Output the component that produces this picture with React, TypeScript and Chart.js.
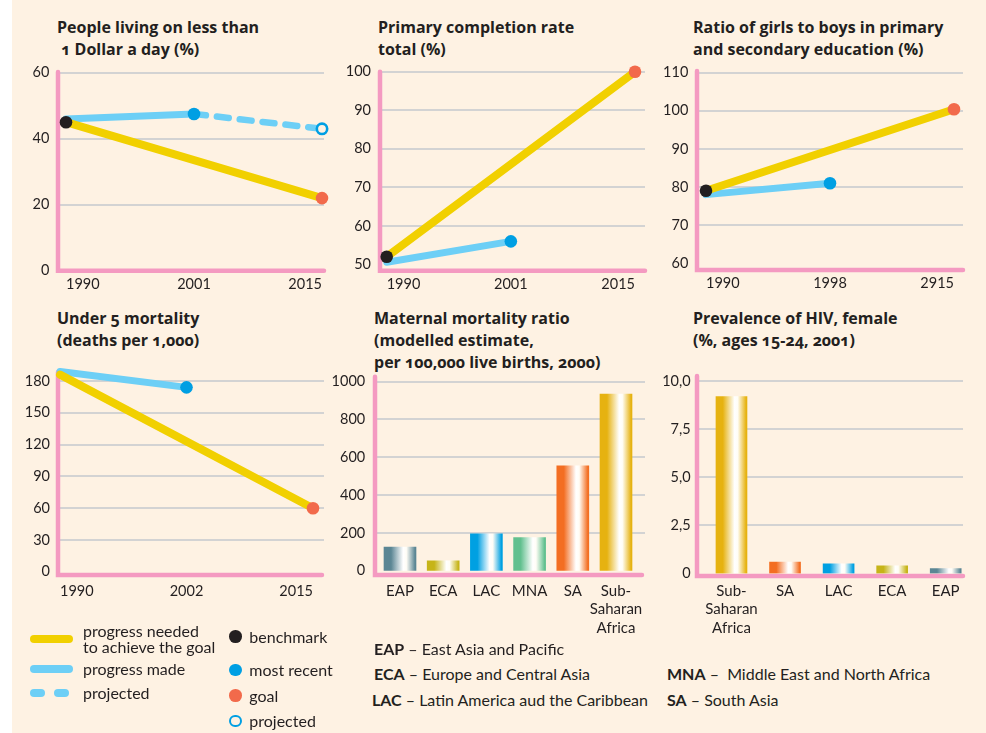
import React, { useEffect, useRef } from 'react';
import { Chart, registerables } from 'chart.js';

Chart.register(...registerables);

// ---------------- DATA ----------------
const POVERTY_YEARS = ['1990', '2001', '2015'];
const POVERTY_NEEDED = [45, null, 22];
const POVERTY_MADE = [46, 47.5, null];
const POVERTY_PROJECTED = [null, 47.5, 43];
const POVERTY_BENCHMARK = [45, null, null];
const POVERTY_RECENT = [null, 47.5, null];
const POVERTY_GOAL = [null, null, 22];
const POVERTY_PROJECTED_POINT = [null, null, 43];
const POVERTY_Y_TICKS = [0, 20, 40, 60];

const COMPLETION_YEARS = ['1990', '2001', '2015'];
const COMPLETION_NEEDED = [52, null, 100];
const COMPLETION_MADE = [50.6, 56, null];
const COMPLETION_BENCHMARK = [52, null, null];
const COMPLETION_RECENT = [null, 56, null];
const COMPLETION_GOAL = [null, null, 100];
const COMPLETION_Y_TICKS = [50, 60, 70, 80, 90, 100];

const GENDER_YEARS = ['1990', '1998', '2915'];
const GENDER_NEEDED = [79, null, 100.4];
const GENDER_MADE = [78, 81, null];
const GENDER_BENCHMARK = [79, null, null];
const GENDER_RECENT = [null, 81, null];
const GENDER_GOAL = [null, null, 100.4];
const GENDER_Y_TICKS = [60, 70, 80, 90, 100, 110];

const U5_YEARS = ['1990', '2002', '2015'];
const U5_NEEDED = [186, null, 60];
const U5_MADE = [189, 174, null];
const U5_BENCHMARK = [186, null, null];
const U5_RECENT = [null, 174, null];
const U5_GOAL = [null, null, 60];
const U5_Y_TICKS = [0, 30, 60, 90, 120, 150, 180];

const MMR_REGIONS = ['EAP', 'ECA', 'LAC', 'MNA', 'SA', 'SSA'];
const MMR_LABELS: (string | string[])[] = ['EAP', 'ECA', 'LAC', 'MNA', 'SA', ['Sub-', 'Saharan', 'Africa']];
const MMR_VALUES = [125, 52, 195, 175, 555, 935];
const MMR_Y_TICKS = [0, 200, 400, 600, 800, 1000];

const HIV_REGIONS = ['SSA', 'SA', 'LAC', 'ECA', 'EAP'];
const HIV_LABELS: (string | string[])[] = [['Sub-', 'Saharan', 'Africa'], 'SA', 'LAC', 'ECA', 'EAP'];
const HIV_VALUES = [9.2, 0.6, 0.5, 0.4, 0.25];
const HIV_Y_TICKS = [0, 2.5, 5, 7.5, 10];
const HIV_Y_TICK_LABELS = ['0', '2,5', '5,0', '7,5', '10,0'];

// ---------------- STYLE ----------------
const TEXT = '#231f20';
const YELLOW = '#f1d000';
const LIGHT_BLUE = '#6dcff6';
const DOT_BLUE = '#009fe3';
const GOAL_RED = '#f26a4b';
const BLACK = '#231f20';
const PINK = '#f49ac1';
const GRID = '#d3d3d3';
const BG = '#fef2e3';

const REGION_COLORS: Record<string, string> = {
  EAP: '#5b8694',
  ECA: '#c6b418',
  LAC: '#00a0e2',
  MNA: '#62c08f',
  SA: '#f36e22',
  SSA: '#e6b210',
};

type Geo = {
  left: number; top: number; width: number; height: number;
  L: number; R: number; T: number; B: number;
  axisX: number; axisTop: number; axisY: number; axisRight: number; gridRight: number;
  yPad: number; xPad: number; barW?: number;
};

const GEO_POVERTY: Geo = { left: 12, top: 56, width: 330, height: 250, L: 66, R: 322, T: 72.7, B: 270.7, axisX: 58, axisTop: 72, axisY: 270.7, axisRight: 324, gridRight: 324, yPad: 16.7, xPad: 4.6 };
const GEO_COMPLETION: Geo = { left: 335, top: 56, width: 320, height: 250, L: 386.7, R: 635, T: 71.7, B: 264.5, axisX: 380, axisTop: 71.7, axisY: 270.7, axisRight: 645, gridRight: 645, yPad: 15.7, xPad: 10.8 };
const GEO_GENDER: Geo = { left: 655, top: 56, width: 325, height: 250, L: 706, R: 954, T: 72.7, B: 263.2, axisX: 697, axisTop: 71, axisY: 270, axisRight: 963, gridRight: 963, yPad: 17.7, xPad: 11.1 };
const GEO_U5: Geo = { left: 12, top: 362, width: 330, height: 250, L: 60, R: 313, T: 381, B: 571.8, axisX: 58, axisTop: 372, axisY: 575, axisRight: 322, gridRight: 324, yPad: 10, xPad: 10.5 };
const GEO_MMR: Geo = { left: 322, top: 370, width: 333, height: 270, L: 378.4, R: 637.6, T: 381.7, B: 570.7, axisX: 375, axisTop: 376.7, axisY: 575, axisRight: 642, gridRight: 645, yPad: 13.2, xPad: 10.6, barW: 32 };
const GEO_HIV: Geo = { left: 650, top: 370, width: 330, height: 270, L: 704.7, R: 972.5, T: 381.3, B: 573.5, axisX: 697, axisTop: 376, axisY: 576, axisRight: 963, gridRight: 963, yPad: 14, xPad: 7.8, barW: 31 };

const framePlugin = {
  id: 'frame',
  beforeDatasetsDraw(chart: any, _args: any, opts: any) {
    const ctx = chart.ctx;
    const y = chart.scales.y;
    ctx.save();
    ctx.strokeStyle = GRID;
    ctx.lineWidth = 2;
    ctx.lineCap = 'butt';
    y.ticks.forEach((t: any, i: number) => {
      if (i === 0) return;
      const py = Math.round(y.getPixelForValue(t.value));
      ctx.beginPath();
      ctx.moveTo(opts.axisX, py);
      ctx.lineTo(opts.gridRight, py);
      ctx.stroke();
    });
    ctx.strokeStyle = PINK;
    ctx.lineWidth = 4.5;
    ctx.lineCap = 'round';
    ctx.lineJoin = 'miter';
    ctx.beginPath();
    ctx.moveTo(opts.axisX, opts.axisTop);
    ctx.lineTo(opts.axisX, opts.axisY);
    ctx.lineTo(opts.axisRight, opts.axisY);
    ctx.stroke();
    ctx.restore();
  },
};

function baseOptions(g: Geo, yTicks: number[], yLabels: string[], isBar: boolean) {
  const yAxisW = g.L - g.left;
  const padR = g.left + g.width - g.R;
  const padT = g.T - g.top;
  const xAxisH = g.top + g.height - g.B;
  return {
    responsive: false,
    animation: false,
    devicePixelRatio: 1,
    layout: { autoPadding: false, padding: { left: 0, right: padR, top: padT, bottom: 0 } },
    plugins: {
      legend: { display: false },
      tooltip: { enabled: false },
      frame: {
        axisX: g.axisX - g.left,
        axisTop: g.axisTop - g.top,
        axisY: g.axisY - g.top,
        axisRight: g.axisRight - g.left,
        gridRight: g.gridRight - g.left,
      },
    },
    scales: {
      x: {
        type: 'category',
        offset: isBar,
        grid: { display: false, drawTicks: false },
        border: { display: false },
        ticks: {
          color: TEXT,
          font: { family: 'Lato', size: isBar ? 15 : 14.5, lineHeight: isBar ? 1.25 : 1.2 },
          padding: g.xPad,
          align: isBar ? 'center' : 'inner',
          maxRotation: 0,
          minRotation: 0,
          autoSkip: false,
        },
        afterFit: (s: any) => {
          s.height = xAxisH;
          s.paddingLeft = 0;
          s.paddingRight = 0;
        },
      },
      y: {
        type: 'linear',
        min: yTicks[0],
        max: yTicks[yTicks.length - 1],
        grid: { display: false, drawTicks: false },
        border: { display: false },
        ticks: {
          color: TEXT,
          font: { family: 'Lato', size: 14.5 },
          padding: g.yPad,
          callback: (_v: any, i: number) => yLabels[i],
        },
        afterBuildTicks: (s: any) => { s.ticks = yTicks.map((v) => ({ value: v })); },
        afterFit: (s: any) => {
          s.width = yAxisW;
          s.paddingTop = 0;
          s.paddingBottom = 0;
        },
      },
    },
  };
}

type LineSeries = {
  needed: (number | null)[];
  made: (number | null)[];
  projected?: (number | null)[];
  benchmark: (number | null)[];
  recent: (number | null)[];
  goal: (number | null)[];
  projectedPoint?: (number | null)[];
};

function pointDs(data: (number | null)[], color: string) {
  return {
    data, showLine: false, order: 0, clip: false,
    pointRadius: 6.3, pointHoverRadius: 6.3, pointBackgroundColor: color, pointBorderWidth: 0, borderColor: color,
  };
}

function lineDs(data: (number | null)[], color: string, width: number, order: number) {
  return {
    data, order, clip: false, spanGaps: true, tension: 0, fill: false,
    borderColor: color, borderWidth: width, borderCapStyle: 'round', borderJoinStyle: 'round',
    pointRadius: 0, pointHoverRadius: 0,
  };
}

function lineConfig(g: Geo, labels: string[], s: LineSeries, yTicks: number[]) {
  const datasets: any[] = [
    pointDs(s.benchmark, BLACK),
    pointDs(s.recent, DOT_BLUE),
    pointDs(s.goal, GOAL_RED),
  ];
  if (s.projectedPoint) {
    datasets.push({
      data: s.projectedPoint, showLine: false, order: 0, clip: false,
      pointRadius: 5.2, pointHoverRadius: 5.2, pointBackgroundColor: BG, pointBorderColor: DOT_BLUE, pointBorderWidth: 2.6,
    });
  }
  datasets.push(lineDs(s.needed, YELLOW, 8, 1));
  datasets.push(lineDs(s.made, LIGHT_BLUE, 7, 2));
  if (s.projected) datasets.push({ ...lineDs(s.projected, LIGHT_BLUE, 6.5, 2), borderDash: [12, 11] });
  return {
    type: 'line',
    data: { labels, datasets },
    options: baseOptions(g, yTicks, yTicks.map((v) => String(v)), false),
    plugins: [framePlugin],
  };
}

function barGradient(regions: string[], barW: number) {
  return (ctx: any) => {
    const base = REGION_COLORS[regions[ctx.dataIndex]] || '#999';
    const chart = ctx.chart;
    if (!chart.chartArea || ctx.type !== 'data') return base;
    const cx = chart.scales.x.getPixelForValue(ctx.dataIndex);
    const g = chart.ctx.createLinearGradient(cx - barW / 2, 0, cx + barW / 2, 0);
    g.addColorStop(0, base);
    g.addColorStop(0.22, base);
    g.addColorStop(0.6, '#ffffff');
    g.addColorStop(0.7, '#fffdf6');
    g.addColorStop(0.97, base);
    g.addColorStop(1, base);
    return g;
  };
}

function barConfig(g: Geo, labels: (string | string[])[], regions: string[], values: number[], yTicks: number[], yLabels: string[]) {
  return {
    type: 'bar',
    data: {
      labels,
      datasets: [{
        data: values,
        backgroundColor: barGradient(regions, g.barW || 32),
        borderWidth: 0,
        barThickness: g.barW,
      }],
    },
    options: baseOptions(g, yTicks, yLabels, true),
    plugins: [framePlugin],
  };
}

function ChartPanel({ geo, make }: { geo: Geo; make: () => any }) {
  const ref = useRef<HTMLCanvasElement | null>(null);
  useEffect(() => {
    const chart = new Chart(ref.current as HTMLCanvasElement, make());
    return () => chart.destroy();
  }, []);
  return (
    <canvas
      ref={ref}
      width={geo.width}
      height={geo.height}
      style={{ position: 'absolute', left: geo.left, top: geo.top, width: geo.width, height: geo.height }}
    />
  );
}

function Title({ x, y, lines }: { x: number; y: number; lines: string[] }) {
  return (
    <div
      style={{
        position: 'absolute', left: x, top: y, fontFamily: "'Open Sans', sans-serif", fontWeight: 700,
        fontSize: 16, lineHeight: '22px', color: TEXT, whiteSpace: 'pre', fontVariantNumeric: 'oldstyle-nums',
      }}
    >
      {lines.map((l, i) => (<div key={i}>{l}</div>))}
    </div>
  );
}

function Txt({ x, cy, children, size = 16 }: { x: number; cy: number; children: any; size?: number }) {
  return (
    <div
      style={{
        position: 'absolute', left: x, top: cy - 10, lineHeight: '20px', fontFamily: 'Lato, sans-serif',
        fontSize: size, color: TEXT, whiteSpace: 'pre',
      }}
    >
      {children}
    </div>
  );
}

function Pill({ x1, x2, cy, color }: { x1: number; x2: number; cy: number; color: string }) {
  return (
    <div style={{ position: 'absolute', left: x1, top: cy - 4, width: x2 - x1, height: 8, borderRadius: 4, background: color }} />
  );
}

function Dot({ cx, cy, color, ring }: { cx: number; cy: number; color: string; ring?: boolean }) {
  const r = 6.3;
  return (
    <div
      style={{
        position: 'absolute', left: cx - r, top: cy - r, width: 2 * r, height: 2 * r, borderRadius: '50%',
        boxSizing: 'border-box', background: ring ? BG : color, border: ring ? `2.6px solid ${color}` : 'none',
      }}
    />
  );
}

export default function App() {
  return (
    <div style={{ position: 'absolute', left: 0, top: 0, width: 986, height: 733, background: '#ffffff', overflow: 'hidden' }}>
      <div style={{ position: 'absolute', left: 12, top: 0, width: 974, height: 733, background: BG }} />

      <Title x={57} y={16} lines={['People living on less than', ' 1 Dollar a day (%)']} />
      <Title x={378} y={16} lines={['Primary completion rate', 'total (%)']} />
      <Title x={693} y={16} lines={['Ratio of girls to boys in primary', 'and secondary education (%)']} />
      <Title x={57} y={307} lines={['Under 5 mortality', '(deaths per 1,000)']} />
      <Title x={374} y={307} lines={['Maternal mortality ratio', '(modelled estimate,', 'per 100,000 live births, 2000)']} />
      <Title x={693} y={307} lines={['Prevalence of HIV, female', '(%, ages 15-24, 2001)']} />

      <ChartPanel geo={GEO_POVERTY} make={() => lineConfig(GEO_POVERTY, POVERTY_YEARS, {
        needed: POVERTY_NEEDED, made: POVERTY_MADE, projected: POVERTY_PROJECTED,
        benchmark: POVERTY_BENCHMARK, recent: POVERTY_RECENT, goal: POVERTY_GOAL, projectedPoint: POVERTY_PROJECTED_POINT,
      }, POVERTY_Y_TICKS)} />
      <ChartPanel geo={GEO_COMPLETION} make={() => lineConfig(GEO_COMPLETION, COMPLETION_YEARS, {
        needed: COMPLETION_NEEDED, made: COMPLETION_MADE,
        benchmark: COMPLETION_BENCHMARK, recent: COMPLETION_RECENT, goal: COMPLETION_GOAL,
      }, COMPLETION_Y_TICKS)} />
      <ChartPanel geo={GEO_GENDER} make={() => lineConfig(GEO_GENDER, GENDER_YEARS, {
        needed: GENDER_NEEDED, made: GENDER_MADE,
        benchmark: GENDER_BENCHMARK, recent: GENDER_RECENT, goal: GENDER_GOAL,
      }, GENDER_Y_TICKS)} />
      <ChartPanel geo={GEO_U5} make={() => lineConfig(GEO_U5, U5_YEARS, {
        needed: U5_NEEDED, made: U5_MADE,
        benchmark: U5_BENCHMARK, recent: U5_RECENT, goal: U5_GOAL,
      }, U5_Y_TICKS)} />
      <ChartPanel geo={GEO_MMR} make={() => barConfig(GEO_MMR, MMR_LABELS, MMR_REGIONS, MMR_VALUES, MMR_Y_TICKS, MMR_Y_TICKS.map((v) => String(v)))} />
      <ChartPanel geo={GEO_HIV} make={() => barConfig(GEO_HIV, HIV_LABELS, HIV_REGIONS, HIV_VALUES, HIV_Y_TICKS, HIV_Y_TICK_LABELS)} />

      {/* legend: lines */}
      <Pill x1={30} x2={73} cy={639} color={YELLOW} />
      <Pill x1={30} x2={73} cy={669.3} color={LIGHT_BLUE} />
      <Pill x1={30} x2={45} cy={693.3} color={LIGHT_BLUE} />
      <Pill x1={54} x2={69} cy={693.3} color={LIGHT_BLUE} />
      <Txt x={83} cy={630.7}>progress needed</Txt>
      <Txt x={83} cy={646.7}>to achieve the goal</Txt>
      <Txt x={83} cy={669.3}>progress made</Txt>
      <Txt x={83} cy={693.3}>projected</Txt>

      {/* legend: points */}
      <Dot cx={235.7} cy={636.7} color={BLACK} />
      <Dot cx={235.7} cy={670} color={DOT_BLUE} />
      <Dot cx={235.7} cy={695.7} color={GOAL_RED} />
      <Dot cx={235.7} cy={721} color={DOT_BLUE} ring />
      <Txt x={249.3} cy={636.7}>benchmark</Txt>
      <Txt x={249.3} cy={670}>most recent</Txt>
      <Txt x={249.3} cy={695.7}>goal</Txt>
      <Txt x={249.3} cy={721}>projected</Txt>

      {/* abbreviations */}
      <Txt x={374} cy={649}><b>EAP</b> – East Asia and Pacific</Txt>
      <Txt x={374} cy={674.3}><b>ECA</b> – Europe and Central Asia</Txt>
      <Txt x={372} cy={700}><b>LAC</b> – Latin America aud the Caribbean</Txt>
      <Txt x={667} cy={674.3}><b>MNA</b> –  Middle East and North Africa</Txt>
      <Txt x={667} cy={700}><b>SA</b> – South Asia</Txt>
    </div>
  );
}
